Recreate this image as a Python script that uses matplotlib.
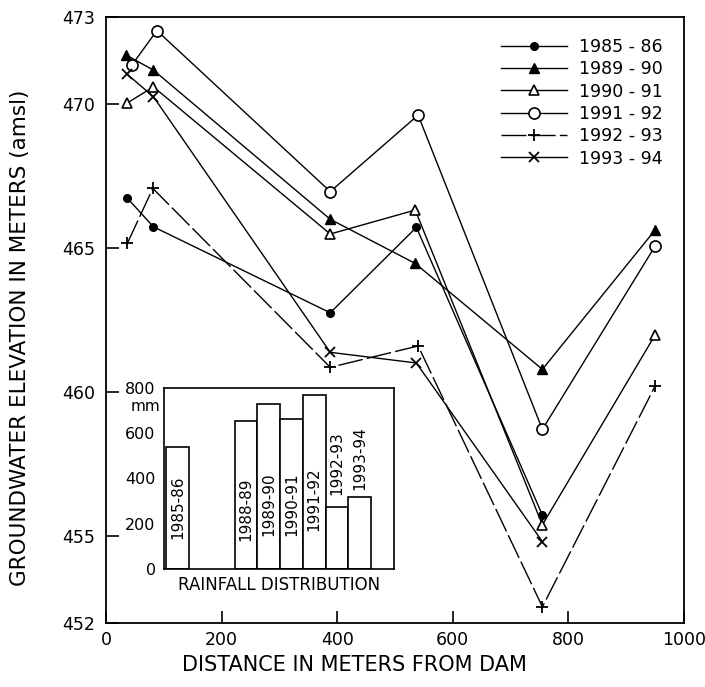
import matplotlib
matplotlib.use("Agg")
import matplotlib.pyplot as plt

# ---------------- data ----------------
x_1985 = [37, 82, 388, 537, 755]
y_1985 = [466.72, 465.73, 462.75, 465.71, 455.74]

x_1989 = [35, 82, 388, 535, 755, 950]
y_1989 = [471.68, 471.16, 465.99, 464.46, 460.79, 465.62]

x_1990 = [36, 82, 388, 535, 755, 950]
y_1990 = [470.01, 470.58, 465.48, 466.31, 455.40, 461.98]

x_1991 = [45, 88, 388, 540, 755, 950]
y_1991 = [471.34, 472.53, 466.95, 469.60, 458.71, 465.06]

x_1992 = [37, 81, 388, 540, 755, 950]
y_1992 = [465.16, 467.06, 460.86, 461.60, 452.56, 460.21]

x_1993 = [37, 82, 388, 537, 755]
y_1993 = [471.01, 470.24, 461.38, 461.01, 454.82]

series_labels = ["1985 - 86", "1989 - 90", "1990 - 91", "1991 - 92", "1992 - 93", "1993 - 94"]

y_ticks = [452, 455, 460, 465, 470, 473]
x_ticks = [0, 200, 400, 600, 800, 1000]

rain_years = ["1985-86", "1988-89", "1989-90", "1990-91", "1991-92", "1992-93", "1993-94"]
rain_slots = [0, 3, 4, 5, 6, 7, 8]
rain_mm = [540, 653, 728, 662, 771, 272, 319]
rain_label_pos = [275, 265, 285, 285, 310, 470, 490]
rain_ticks = [0, 200, 400, 600, 800]

# ---------------- figure ----------------
W, H = 705, 687
fig = plt.figure(figsize=(W / 100, H / 100), dpi=100)
ax = fig.add_axes([106 / W, 1 - 623 / H, (684 - 106) / W, (623 - 17) / H])

k = "black"
lw = 1.0
ax.plot(x_1985, y_1985, color=k, lw=lw, marker="o", ms=5.5, mfc=k, mec=k, label=series_labels[0])
ax.plot(x_1989, y_1989, color=k, lw=lw, marker="^", ms=7, mfc=k, mec=k, label=series_labels[1])
ax.plot(x_1990, y_1990, color=k, lw=lw, marker="^", ms=7, mfc="white", mec=k, mew=1.2, label=series_labels[2])
ax.plot(x_1991, y_1991, color=k, lw=lw, marker="o", ms=8, mfc="white", mec=k, mew=1.2, label=series_labels[3])
ax.plot(x_1992, y_1992, color=k, lw=lw, ls=(0, (18, 3)), marker="+", ms=9, mew=1.3, mec=k, label=series_labels[4])
ax.plot(x_1993, y_1993, color=k, lw=lw, marker="x", ms=7, mew=1.3, mec=k, label=series_labels[5])

ax.set_xlim(0, 1000)
ax.set_ylim(452, 473)
ax.set_xticks(x_ticks)
ax.set_yticks(y_ticks)
ax.tick_params(axis="both", direction="in", length=9, width=1.2, labelsize=12.5)
ax.tick_params(axis="x", pad=6)
ax.tick_params(axis="y", pad=8)
for s in ax.spines.values():
    s.set_linewidth(1.3)

fig.text(354 / W, 1 - 671 / H, "DISTANCE IN METERS FROM DAM", ha="center", va="baseline",
         fontsize=15)
fig.text(20 / W, 1 - 338 / H, "GROUNDWATER ELEVATION IN METERS (amsl)", ha="center", va="center",
         rotation=90, fontsize=15.5)

leg = ax.legend(loc="upper right", frameon=False, fontsize=12.5, handlelength=3.8,
                labelspacing=0.25, borderaxespad=0.8, handletextpad=0.7)

# ---------------- inset ----------------
ins = fig.add_axes([164 / W, 1 - 569 / H, 230 / W, 181 / H])
ins.bar(rain_slots, rain_mm, width=1.0, align="edge", color="white", edgecolor=k, linewidth=1.2)
for slot, lab, yp in zip(rain_slots, rain_years, rain_label_pos):
    ins.text(slot + 0.5, yp, lab, rotation=90, ha="center", va="center", fontsize=11)
ins.set_xlim(-0.1, 10)
ins.set_ylim(0, 800)
ins.set_xticks([])
ins.set_yticks(rain_ticks)
ins.tick_params(axis="y", direction="in", length=0, labelsize=11.5, pad=6)
for s in ins.spines.values():
    s.set_linewidth(1.2)
ins.set_xlabel("RAINFALL DISTRIBUTION", fontsize=12, labelpad=5)
ins.text(-0.08, 0.9, "mm", transform=ins.transAxes, ha="center", va="center", fontsize=11)

fig.savefig("out.png", dpi=100)
